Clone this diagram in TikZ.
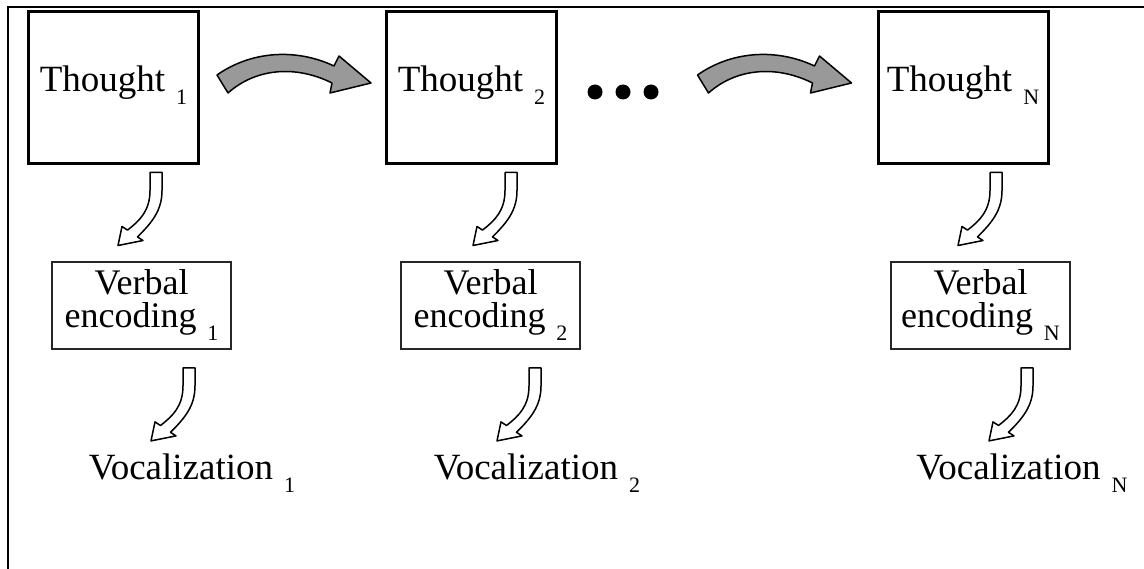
\documentclass[tikz,border=0pt]{standalone}
\usepackage{fontspec}
\setmainfont{Liberation Serif}
\newcommand{\lowidx}[1]{\hspace{.3em}\raisebox{-13pt}{\fontsize{22}{22}\selectfont#1}}
\tikzset{
 thought/.style={draw, line width=3pt, minimum width=170pt, minimum height=152pt, inner sep=0pt, text height=30pt, text depth=21pt, font=\fontsize{37}{40}\selectfont},
 verbal/.style={draw=black!85, line width=1.8pt, minimum width=179pt, minimum height=87pt, inner sep=0pt, align=center, font=\fontsize{36}{33}\selectfont},
 vocal/.style={anchor=base, font=\fontsize{37}{40}\selectfont}
}
\begin{document}
\begin{tikzpicture}[x=1pt, y=-1pt,
 flow/.pic={\draw[line width=1.5pt, fill=black!40, line join=round] (-154,-8) .. controls (-120,-32) and (-75,-35) .. (-37,-17) -- (-32,-27) -- (0,0) -- (-41,10) -- (-39,0) .. controls (-75,-18) and (-115,-15) .. (-143,10) -- cycle;},
 hollow/.pic={\draw[line width=1.5pt, fill=white, line join=round] (-6,0) -- (-6,18) .. controls (-6,38) and (-16,48) .. (-28.5,57.6) -- (-34,54) -- (-38,73) -- (-13,68) -- (-18.5,64.4) .. controls (-4,50) and (6,38) .. (6,18) -- (6,0) -- cycle;}]
\useasboundingbox (0,0) rectangle (1144,569);
\draw[line width=2pt] (8,569) -- (8,7) -- (1144,7);
\path (113.5,87.5) node[thought] (t1) {Thought\lowidx{1}}
 (471.5,87.5) node[thought] (t2) {Thought\lowidx{2}}
 (963,87.5) node[thought] (tN) {Thought\lowidx{N}}
 (141.5,305.5) node[verbal] (v1) {Verbal\\encoding\lowidx{1}}
 (490.5,305.5) node[verbal] (v2) {Verbal\\encoding\lowidx{2}}
 (980.5,305.5) node[verbal] (vN) {Verbal\\encoding\lowidx{N}}
 (192,479) node[vocal] (o1) {Vocalization\lowidx{1}}
 (537,479) node[vocal] (o2) {Vocalization\lowidx{2}}
 (1022,479) node[vocal] (oN) {Vocalization\lowidx{N}};
\foreach \x in {595,623,651} \fill (\x,92) circle (7.5);
\pic at ([xshift=-14pt,yshift=4.5pt]t2.west) {flow};
\pic at ([xshift=-25pt,yshift=4.5pt]tN.west) {flow};
\foreach \n/\dx/\dy in {t1/42.5/-7.5, t2/39.5/-7.5, tN/33/-7.5, v1/47.5/-18, v2/44.5/-18, vN/46.5/-18}
 \pic at ([xshift=\dx pt,yshift=\dy pt]\n.south) {hollow};
\end{tikzpicture}
\end{document}
